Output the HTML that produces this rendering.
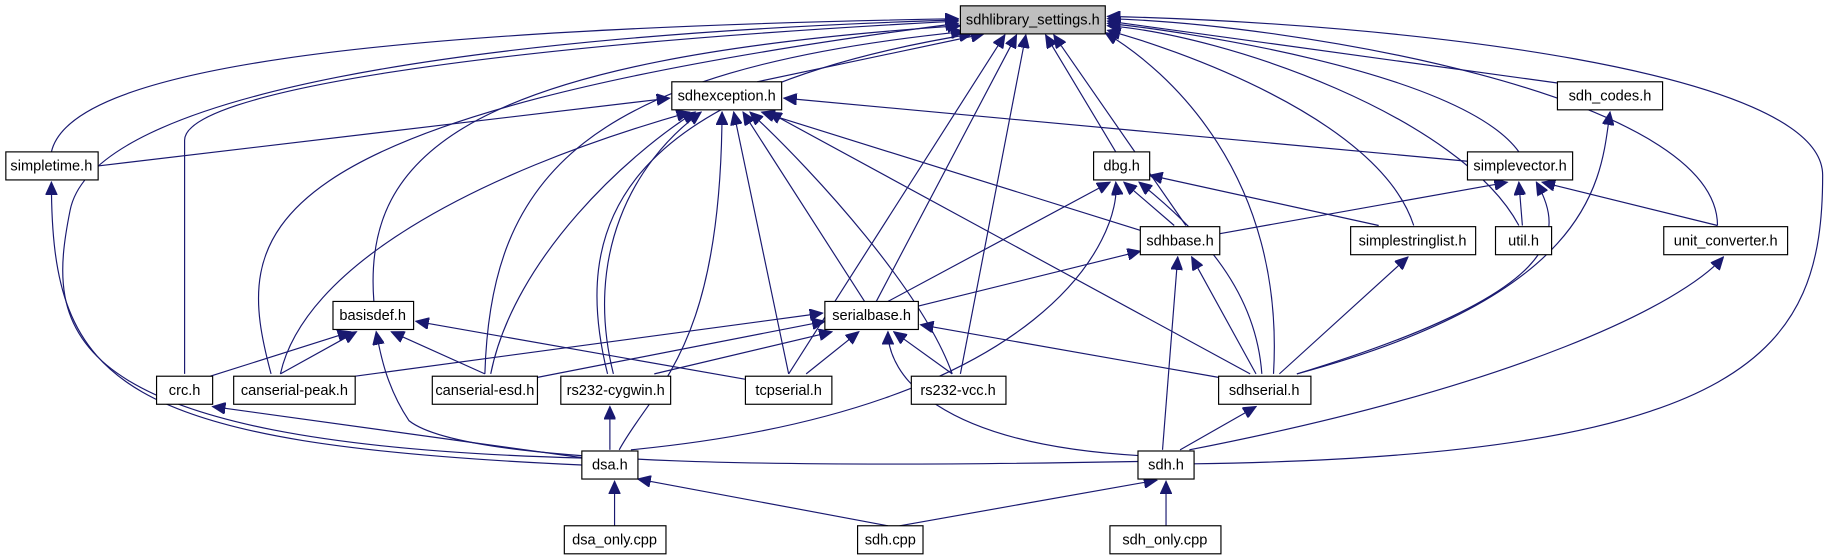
<!DOCTYPE html>
<html><head><meta charset="utf-8"><style>
html,body{margin:0;padding:0;background:#fff;}
svg{display:block;}
text{font-family:"Liberation Sans",Arial,sans-serif;font-size:12.5px;fill:#000;}
.e{fill:none;stroke:#191970;stroke-width:1;marker-end:url(#a);}
.n{fill:#fff;stroke:#000;stroke-width:1;}
</style></head><body>
<svg width="1832" height="560" viewBox="0 0 1568 479.3" preserveAspectRatio="none" xmlns="http://www.w3.org/2000/svg">
<defs><marker id="a" markerUnits="userSpaceOnUse" markerWidth="12" markerHeight="10" refX="11" refY="5" orient="auto"><path d="M0,0 L11,5 L0,10 z" fill="#191970" stroke="#191970"/></marker></defs>
<g>
<path class="e" d="M44,130 C60,60 300,25 820,16"/>
<path class="e" d="M498,392 C40,380 40,280 60,180 C80,80 400,30 820,17"/>
<path class="e" d="M158,320 L158,120 C158,80 400,40 820,18"/>
<path class="e" d="M232,320 C200,200 200,100 820,20"/>
<path class="e" d="M320,258 C310,130 400,50 822,22"/>
<path class="e" d="M415,320 C420,150 500,60 825,27"/>
<path class="e" d="M520,320 C490,200 520,80 832,29"/>
<path class="e" d="M648,70 L842,29"/>
<path class="e" d="M675,320 L860,30"/>
<path class="e" d="M750,258 L870,30"/>
<path class="e" d="M822,320 L878,30"/>
<path class="e" d="M955,130 L895,30"/>
<path class="e" d="M1015,193 L902,30"/>
<path class="e" d="M1090,320 C1100,150 1000,60 946,28"/>
<path class="e" d="M1210,193 C1180,100 1000,40 948,26"/>
<path class="e" d="M1300,193 C1250,100 1050,30 948,22"/>
<path class="e" d="M1300,130 C1250,60 1000,25 948,20"/>
<path class="e" d="M1340,72 L948,18"/>
<path class="e" d="M1470,193 C1470,80 1100,20 948,16"/>
<path class="e" d="M1022,397 C1500,390 1560,300 1560,150 C1560,60 1200,20 948,14"/>
<path class="e" d="M84,142 L573,84"/>
<path class="e" d="M240,320 C260,230 400,150 590,96"/>
<path class="e" d="M420,320 C440,220 540,130 595,96"/>
<path class="e" d="M525,320 C500,220 540,140 600,96"/>
<path class="e" d="M530,385 C560,330 617,300 618,96"/>
<path class="e" d="M675,320 L628,96"/>
<path class="e" d="M740,258 L636,96"/>
<path class="e" d="M815,320 C790,250 700,150 642,96"/>
<path class="e" d="M985,200 L652,96"/>
<path class="e" d="M1070,320 L658,96"/>
<path class="e" d="M1256,138 L671,84"/>
<path class="e" d="M1110,320 C1370,250 1370,150 1378,96"/>
<path class="e" d="M498,398 C100,380 44,330 44,156"/>
<path class="e" d="M760,258 L950,156"/>
<path class="e" d="M1005,193 L962,156"/>
<path class="e" d="M1180,193 L984,150"/>
<path class="e" d="M1080,320 C1075,250 1030,200 975,156"/>
<path class="e" d="M540,385 C900,350 960,200 955,156"/>
<path class="e" d="M1044,200 L1290,156"/>
<path class="e" d="M1303,193 L1300,156"/>
<path class="e" d="M1470,193 L1320,156"/>
<path class="e" d="M1110,320 C1340,250 1340,200 1315,156"/>
<path class="e" d="M786,262 L976,215"/>
<path class="e" d="M1075,320 L1020,220"/>
<path class="e" d="M995,385 L1008,220"/>
<path class="e" d="M1095,320 L1205,220"/>
<path class="e" d="M1018,385 C1300,330 1440,260 1475,220"/>
<path class="e" d="M180,322 L300,284"/>
<path class="e" d="M240,320 L305,284"/>
<path class="e" d="M415,320 L335,284"/>
<path class="e" d="M640,325 L356,275"/>
<path class="e" d="M974,395 C700,400 400,400 350,360 C330,330 325,300 322,284"/>
<path class="e" d="M304,322 L704,268"/>
<path class="e" d="M460,323 L706,275"/>
<path class="e" d="M560,320 L712,284"/>
<path class="e" d="M690,320 L735,284"/>
<path class="e" d="M815,320 L765,284"/>
<path class="e" d="M1043,323 L788,278"/>
<path class="e" d="M976,390 C800,380 760,320 760,284"/>
<path class="e" d="M500,392 L182,348"/>
<path class="e" d="M522,385 L522,348"/>
<path class="e" d="M1010,385 L1075,348"/>
<path class="e" d="M526,450 L526,412"/>
<path class="e" d="M760,450 L546,410"/>
<path class="e" d="M770,450 L990,411"/>
<path class="e" d="M998,450 L998,412"/>
</g>
<g>
<rect x="822" y="5" width="124" height="24" fill="#bfbfbf" stroke="#000" stroke-width="1"/><text x="884" y="21" text-anchor="middle">sdhlibrary_settings.h</text>
<rect class="n" x="575" y="70" width="94" height="24"/><text x="622" y="86" text-anchor="middle">sdhexception.h</text>
<rect class="n" x="1333" y="70" width="90" height="24"/><text x="1378" y="86" text-anchor="middle">sdh_codes.h</text>
<rect class="n" x="5" y="130" width="79" height="24"/><text x="44" y="146" text-anchor="middle">simpletime.h</text>
<rect class="n" x="936" y="130" width="48" height="24"/><text x="960" y="146" text-anchor="middle">dbg.h</text>
<rect class="n" x="1256" y="130" width="90" height="24"/><text x="1301" y="146" text-anchor="middle">simplevector.h</text>
<rect class="n" x="976" y="194" width="68" height="24"/><text x="1010" y="210" text-anchor="middle">sdhbase.h</text>
<rect class="n" x="1156" y="194" width="107" height="24"/><text x="1209" y="210" text-anchor="middle">simplestringlist.h</text>
<rect class="n" x="1280" y="194" width="48" height="24"/><text x="1304" y="210" text-anchor="middle">util.h</text>
<rect class="n" x="1424" y="194" width="106" height="24"/><text x="1477" y="210" text-anchor="middle">unit_converter.h</text>
<rect class="n" x="285" y="258" width="69" height="24"/><text x="319" y="274" text-anchor="middle">basisdef.h</text>
<rect class="n" x="706" y="258" width="80" height="24"/><text x="746" y="274" text-anchor="middle">serialbase.h</text>
<rect class="n" x="134" y="322" width="48" height="24"/><text x="158" y="338" text-anchor="middle">crc.h</text>
<rect class="n" x="200" y="322" width="104" height="24"/><text x="252" y="338" text-anchor="middle">canserial-peak.h</text>
<rect class="n" x="370" y="322" width="90" height="24"/><text x="415" y="338" text-anchor="middle">canserial-esd.h</text>
<rect class="n" x="480" y="322" width="94" height="24"/><text x="527" y="338" text-anchor="middle">rs232-cygwin.h</text>
<rect class="n" x="638" y="322" width="74" height="24"/><text x="675" y="338" text-anchor="middle">tcpserial.h</text>
<rect class="n" x="780" y="322" width="81" height="24"/><text x="820" y="338" text-anchor="middle">rs232-vcc.h</text>
<rect class="n" x="1043" y="322" width="79" height="24"/><text x="1082" y="338" text-anchor="middle">sdhserial.h</text>
<rect class="n" x="498" y="386" width="48" height="24"/><text x="522" y="402" text-anchor="middle">dsa.h</text>
<rect class="n" x="974" y="386" width="48" height="24"/><text x="998" y="402" text-anchor="middle">sdh.h</text>
<rect class="n" x="483" y="450" width="87" height="24"/><text x="526" y="466" text-anchor="middle">dsa_only.cpp</text>
<rect class="n" x="734" y="450" width="56" height="24"/><text x="762" y="466" text-anchor="middle">sdh.cpp</text>
<rect class="n" x="950" y="450" width="95" height="24"/><text x="997" y="466" text-anchor="middle">sdh_only.cpp</text>
</g>
</svg>
</body></html>
